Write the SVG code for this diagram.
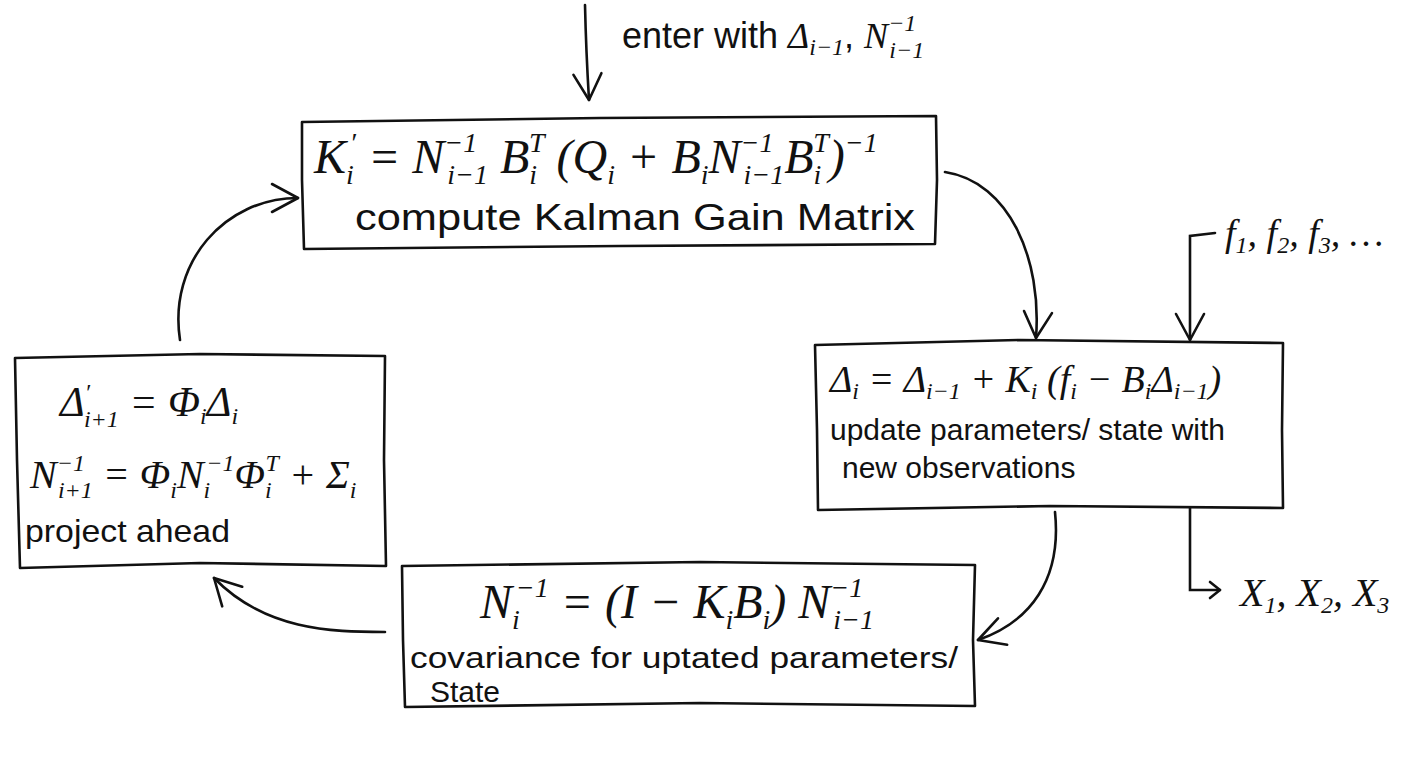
<svg xmlns="http://www.w3.org/2000/svg" width="1421" height="757" viewBox="0 0 1421 757">
<style>
.box{fill:none;stroke:#111;stroke-width:2.6;stroke-linejoin:round}
.con{fill:none;stroke:#111;stroke-width:2.6;stroke-linecap:round}
.m{font-family:"Liberation Serif",serif;font-style:italic;fill:#111}
.t{font-family:"Liberation Sans",sans-serif;fill:#111}
</style>
<defs>
<marker id="v" viewBox="-30 -20 34 40" markerWidth="34" markerHeight="40" refX="0" refY="0" orient="auto" markerUnits="userSpaceOnUse">
<path d="M-26,-14 L0,0 L-26,14" fill="none" stroke="#111" stroke-width="2.6" stroke-linecap="round" stroke-linejoin="round"/>
</marker>
<marker id="vs" viewBox="-20 -14 24 28" markerWidth="24" markerHeight="28" refX="0" refY="0" orient="auto" markerUnits="userSpaceOnUse">
<path d="M-10,-8 L0,0 L-10,8" fill="none" stroke="#111" stroke-width="2.6" stroke-linecap="round" stroke-linejoin="round"/>
</marker>
</defs>
<rect width="1421" height="757" fill="#fff"/>

<g id="entry-label">
<text class="t" x="622" y="48" font-size="36">enter with <tspan class="m">Δ</tspan><tspan class="m" font-size="24" dy="7">i−1</tspan><tspan dy="-7">, </tspan><tspan class="m">N</tspan><tspan class="m" font-size="24" dy="-17">−1</tspan><tspan class="m" font-size="24" dx="-27" dy="27">i−1</tspan></text>
</g>

<g id="gain">
<path class="box" d="M302,122 L600,118 L936,116 L937,180 L935,244 L620,246 L304,249 L302,180 Z"/>
<text class="m" x="314" y="173" font-size="48">K<tspan font-size="28" dy="11">i</tspan><tspan font-size="28" dx="-4" dy="-32">′</tspan><tspan dy="21"> = N</tspan><tspan font-size="28" dy="-21">−1</tspan><tspan font-size="28" dx="-30" dy="32">i−1</tspan><tspan dy="-11"> B</tspan><tspan font-size="28" dy="11">i</tspan><tspan font-size="28" dx="-8" dy="-32">T</tspan><tspan dy="21"> (Q</tspan><tspan font-size="28" dy="11">i</tspan><tspan dy="-11"> + B</tspan><tspan font-size="28" dy="11">i</tspan><tspan dy="-11">N</tspan><tspan font-size="28" dy="-21">−1</tspan><tspan font-size="28" dx="-30" dy="32">i−1</tspan><tspan dy="-11">B</tspan><tspan font-size="28" dy="11">i</tspan><tspan font-size="28" dx="-8" dy="-32">T</tspan><tspan dy="21">)</tspan><tspan font-size="28" dy="-21">−1</tspan></text>
<text class="t" x="355" y="230" font-size="36" textLength="560" lengthAdjust="spacingAndGlyphs">compute Kalman Gain Matrix</text>
</g>

<g id="update">
<path class="box" d="M815,345 L1020,340 L1283,343 L1282,430 L1283,508 L1050,506 L818,510 L817,430 Z"/>
<text class="m" x="830" y="392" font-size="38">Δ<tspan font-size="24" dy="7">i</tspan><tspan dy="-7"> = Δ</tspan><tspan font-size="24" dy="7">i−1</tspan><tspan dy="-7"> + K</tspan><tspan font-size="24" dy="7">i</tspan><tspan dy="-7"> (f</tspan><tspan font-size="24" dy="7">i</tspan><tspan dy="-7"> − B</tspan><tspan font-size="24" dy="7">i</tspan><tspan dy="-7">Δ</tspan><tspan font-size="24" dy="7">i−1</tspan><tspan dy="-7">)</tspan></text>
<text class="t" x="830" y="440" font-size="30" textLength="395" lengthAdjust="spacingAndGlyphs">update parameters/ state with</text>
<text class="t" x="842" y="478" font-size="30">new observations</text>
</g>

<g id="covariance">
<path class="box" d="M402,566 L700,562 L975,565 L973,640 L975,706 L700,703 L405,707 L403,640 Z"/>
<text class="m" x="480" y="618" font-size="48">N<tspan font-size="28" dy="11">i</tspan><tspan font-size="28" dx="-4" dy="-32">−1</tspan><tspan dy="21"> = (I − K</tspan><tspan font-size="28" dy="11">i</tspan><tspan dy="-11">B</tspan><tspan font-size="28" dy="11">i</tspan><tspan dy="-11">) N</tspan><tspan font-size="28" dy="-21">−1</tspan><tspan font-size="28" dx="-30" dy="32">i−1</tspan></text>
<text class="t" x="410" y="668" font-size="30" textLength="548" lengthAdjust="spacingAndGlyphs">covariance for uptated parameters/</text>
<text class="t" x="430" y="702" font-size="30">State</text>
</g>

<g id="project">
<path class="box" d="M15,358 L200,354 L385,356 L384,460 L386,566 L200,563 L20,568 L17,460 Z"/>
<text class="m" x="60" y="416" font-size="42">Δ<tspan font-size="24" dy="-16">′</tspan><tspan font-size="24" dx="-6" dy="27">i+1</tspan><tspan dy="-11"> = Φ</tspan><tspan font-size="24" dy="8">i</tspan><tspan dy="-8">Δ</tspan><tspan font-size="24" dy="8">i</tspan></text>
<text class="m" x="30" y="488" font-size="40">N<tspan font-size="24" dy="-17">−1</tspan><tspan font-size="24" dx="-27" dy="27">i+1</tspan><tspan dy="-10"> = Φ</tspan><tspan font-size="24" dy="10">i</tspan><tspan dy="-10">N</tspan><tspan font-size="24" dy="10">i</tspan><tspan font-size="24" dx="-4" dy="-27">−1</tspan><tspan dy="17">Φ</tspan><tspan font-size="24" dy="10">i</tspan><tspan font-size="24" dx="-6" dy="-27">T</tspan><tspan dy="17"> + Σ</tspan><tspan font-size="24" dy="10">i</tspan></text>
<text class="t" x="25" y="542" font-size="32" textLength="205" lengthAdjust="spacingAndGlyphs">project ahead</text>
</g>

<g id="inputs">
<text class="m" x="1225" y="246" font-size="38">f<tspan font-size="24" dy="7">1</tspan><tspan dy="-7">, f</tspan><tspan font-size="24" dy="7">2</tspan><tspan dy="-7">, f</tspan><tspan font-size="24" dy="7">3</tspan><tspan dy="-7">, …</tspan></text>
</g>

<g id="outputs">
<text class="m" x="1240" y="606" font-size="40">X<tspan font-size="24" dy="7">1</tspan><tspan dy="-7">, X</tspan><tspan font-size="24" dy="7">2</tspan><tspan dy="-7">, X</tspan><tspan font-size="24" dy="7">3</tspan></text>
</g>

<g id="connectors">
<path class="con" d="M585,5 Q586,50 589,100" marker-end="url(#v)"/>
<path class="con" d="M945,172 C1010,182 1042,260 1036,338" marker-end="url(#v)"/>
<path class="con" d="M1215,233 L1190,236 L1190,340" marker-end="url(#v)"/>
<path class="con" d="M1190,508 L1190,590 L1220,590" marker-end="url(#vs)"/>
<path class="con" d="M1055,512 C1062,580 1030,622 978,640" marker-end="url(#v)"/>
<path class="con" d="M385,632 C330,632 265,630 214,578" marker-end="url(#v)"/>
<path class="con" d="M180,340 C168,262 225,198 298,198" marker-end="url(#v)"/>
</g>
</svg>
